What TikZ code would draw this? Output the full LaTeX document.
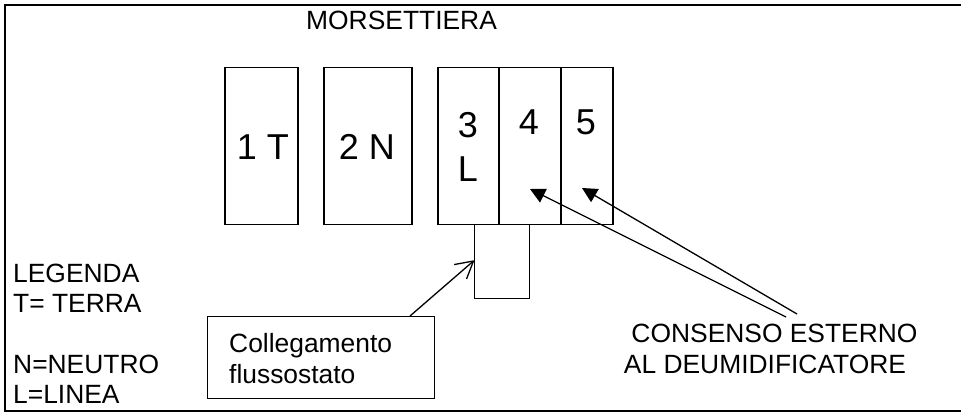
\documentclass[tikz,border=0pt]{standalone}
\usepackage{fontspec}
\setmainfont{Liberation Sans}
\usetikzlibrary{arrows.meta}
\pgfdeclarearrow{name=Arrow Head,
  setup code={\pgfarrowssetbackend{0pt}\pgfarrowssetlineend{-1pt}\pgfarrowssettipend{0pt}\pgfarrowshullpoint{0pt}{0pt}\pgfarrowssavethe\pgflinewidth},
  drawing code={\pgfsetdash{}{0pt}\pgfsetmiterjoin
    \pgfpathmoveto{\pgfpoint{-17pt}{10pt}}\pgfpathlineto{\pgfpointorigin}\pgfpathlineto{\pgfpoint{-17pt}{-9pt}}\pgfusepathqstroke}
}
\tikzset{
 lab/.style={inner sep=0pt,anchor=base west,font=\fontsize{26.4}{30}\selectfont},
 labc/.style={lab,anchor=base},
 big/.style={inner sep=0pt,anchor=base,font=\fontsize{36}{40}\selectfont},
 term/.style={draw=black,line width=1.5pt,inner sep=0pt,minimum height=157pt},
 thin box/.style={draw=black,line width=1pt,inner sep=0pt},
 frame/.style={draw=black,line width=2pt},
 arrfill/.style={draw=black,line width=1.3pt,-{Triangle[length=15pt,width=15pt]}},
 arrbarb/.style={draw=black,line width=1.3pt,-{Arrow Head}},
}
\begin{document}
\begin{tikzpicture}[x=1pt,y=-1pt]
\useasboundingbox (0,0) rectangle (961,412);
\coordinate (ftr) at (961,5);
\coordinate (ftl) at (5,5);
\coordinate (fbl) at (5,411);
\coordinate (fbr) at (961,411);
\draw[frame] (ftr) -- (ftl) -- (fbl) -- (fbr);
\node[lab] (title) at (306,30) {MORSETTIERA};
\node[thin box,minimum width=55pt,minimum height=74pt] (link) at (501.5,261) {};
\node[term,minimum width=73pt] (b1) at (261.5,146) {};
\node[big] (t1) at (263,159) {1 T};
\node[term,minimum width=88pt] (b2) at (368,146) {};
\node[big] (t2) at (367,159) {2 N};
\node[term,minimum width=61pt] (b3) at (468.5,146) {};
\node[term,minimum width=62pt] (b4) at (530,146) {};
\node[term,minimum width=52pt] (b5) at (587,146) {};
\node[big] (t3) at (468,137) {3};
\node[big] (tl) at (468,181) {L};
\node[big] (t4) at (529,134) {4};
\node[big] (t5) at (586,134) {5};
\node[thin box,minimum width=227pt,minimum height=82pt] (coll) at (320.5,357) {};
\node[lab] (c1) at (229,352) {Collegamento};
\node[lab] (c2) at (229,383) {flussostato};
\node[lab] (l1) at (13,282) {LEGENDA};
\node[lab] (l2) at (13,312) {T= TERRA};
\node[lab] (l3) at (13,373) {N=NEUTRO};
\node[lab] (l4) at (13,403) {L=LINEA};
\node[labc] (cons1) at (774.5,342) {CONSENSO ESTERNO};
\node[labc] (cons2) at (765,373) {AL DEUMIDIFICATORE};
\coordinate (s1) at (786,317);
\coordinate (s2) at (797,314);
\coordinate (a1) at (530,189);
\coordinate (a2) at (582,188);
\coordinate (s3) at (410,316);
\draw[arrfill] (s1) -- (a1);
\draw[arrfill] (s2) -- (a2);
\draw[arrbarb] (s3) -- (link.west);
\end{tikzpicture}
\end{document}
